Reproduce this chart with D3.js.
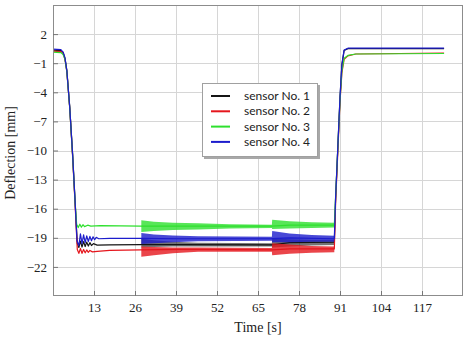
<!DOCTYPE html>
<html>
<head>
<meta charset="utf-8">
<script src="https://cdn.jsdelivr.net/npm/d3@7"></script>
<style>
  html, body { margin: 0; padding: 0; background: #fff; }
  svg { display: block; }
  .tick text { font-family: "Liberation Serif", "Times New Roman", serif !important; font-size: 13px !important; }
</style>
</head>
<body>
<svg id="chart" width="469" height="340"></svg>
<script>
// ---- data ----
const xTicks = [13, 26, 39, 52, 65, 78, 91, 104, 117];
const yTicks = [2, -1, -4, -7, -10, -13, -16, -19, -22];
const seriesNames = ["sensor No. 1", "sensor No. 2", "sensor No. 3", "sensor No. 4"];
const seriesColors = ["#151515", "#e5161d", "#2ee02e", "#1c1ccc"];

// main traces [time s, deflection mm]
const trace1 = [[0,0.35],[2.5,0.3],[3.2,0.1],[3.8,-0.5],[4.4,-1.8],[5.3,-5.5],[6.2,-10.3],[7,-15.2],[7.7,-19.6],
  [8.2,-20.0],[8.7,-19.35],[9.2,-19.95],[9.7,-19.4],[10.2,-19.9],[10.7,-19.45],[11.2,-19.85],[11.7,-19.5],[12.2,-19.8],
  [12.8,-19.6],[14,-19.75],[18,-19.72],[27.9,-19.7],[40,-19.7],[69.4,-19.72],[75,-19.5],[89.2,-19.45],
  [89.6,-15],[90.3,-9.8],[91,-4.6],[91.6,-1.2],[92.3,0.3],[93.5,0.5],[124,0.5]];
const trace2 = [[0,0.25],[2.5,0.2],[3.2,0.0],[3.8,-0.6],[4.4,-1.9],[5.3,-5.6],[6.2,-10.5],[7,-15.5],[7.7,-20.2],
  [8.2,-20.6],[8.7,-20.1],[9.2,-20.6],[9.7,-20.2],[10.2,-20.55],[10.7,-20.25],[11.2,-20.5],[11.7,-20.3],[12.5,-20.45],
  [14,-20.4],[18,-20.3],[27.9,-20.25],[40,-20.2],[69.4,-20.25],[75,-20.15],[89.2,-20.15],
  [89.6,-15.5],[90.3,-10.2],[91,-5.0],[91.6,-2.0],[92.3,-0.6],[93.5,-0.25],[96,-0.05],[124,0.05]];
const trace3 = [[0,0.15],[2.5,0.1],[3.2,-0.1],[3.8,-0.6],[4.4,-1.9],[5.3,-5.6],[6.2,-10.4],[7,-15.3],[7.5,-17.6],
  [8,-17.95],[8.5,-17.6],[9,-17.9],[9.5,-17.65],[10,-17.85],[11,-17.7],[12,-17.8],[15,-17.75],[27.9,-17.8],
  [40,-17.8],[69.4,-17.8],[75,-17.7],[89.2,-17.7],
  [89.6,-14.8],[90.3,-9.8],[91,-4.8],[91.6,-1.8],[92.3,-0.5],[93.5,-0.2],[96,-0.05],[124,0.0]];
const trace4 = [[0,0.45],[2.5,0.4],[3.2,0.15],[3.8,-0.45],[4.4,-1.8],[5.3,-5.5],[6.2,-10.3],[7,-15.2],[7.6,-19.3],
  [8.2,-19.8],[8.7,-18.6],[9.2,-19.6],[9.7,-18.7],[10.2,-19.5],[10.7,-18.8],[11.2,-19.4],[11.7,-18.85],[12.2,-19.3],
  [12.7,-18.9],[13.2,-19.2],[13.7,-18.95],[14.5,-19.1],[18,-19.05],[27.9,-19.05],[40,-19.1],[69.4,-19.08],[75,-19.0],[89.2,-19.1],
  [89.6,-14.9],[90.3,-9.7],[91,-4.5],[91.6,-1.1],[92.3,0.35],[93.5,0.55],[124,0.55]];

// oscillation envelopes [time s, lower, upper]
const band1 = [[28,-20.0,-19.1],[32,-19.95,-19.25],[38,-19.9,-19.4],[46,-19.9,-19.5],[69.4,-19.9,-19.55],
  [69.5,-20.0,-19.05],[75,-19.9,-19.15],[82,-19.8,-19.2],[89.2,-19.75,-19.2]];
const band2 = [[28,-20.95,-19.9],[32,-20.8,-19.95],[38,-20.6,-20.0],[46,-20.45,-20.0],[69.4,-20.45,-20.05],
  [69.5,-20.8,-19.55],[75,-20.65,-19.7],[82,-20.55,-19.85],[89.2,-20.5,-19.9]];
const band3 = [[28,-18.4,-17.2],[32,-18.3,-17.35],[38,-18.2,-17.45],[46,-18.15,-17.5],[56,-18.05,-17.6],[69.4,-18.0,-17.65],
  [69.5,-18.1,-17.15],[75,-18.05,-17.3],[82,-18.0,-17.4],[89.2,-17.95,-17.45]];
const band4 = [[28,-19.65,-18.5],[32,-19.55,-18.65],[38,-19.45,-18.75],[46,-19.35,-18.85],[69.4,-19.3,-18.9],
  [69.5,-19.45,-18.3],[75,-19.45,-18.55],[82,-19.4,-18.7],[89.2,-19.4,-18.8]];

const traces = [trace1, trace2, trace3, trace4];
const bands = [band1, band2, band3, band4];

// ---- drawing ----
const svg = d3.select("#chart");
const L = 53, R = 463, T = 5, B = 296;
const x = d3.scaleLinear().domain([0, 130]).range([L, R]);
const y = d3.scaleLinear().domain([-25, 5]).range([B, T]);
const serif = "'Liberation Serif', 'Times New Roman', serif";

// grid
const grid = svg.append("g").attr("stroke", "#d6d6d6").attr("stroke-width", 1);
grid.selectAll("line.v").data(xTicks).join("line")
  .attr("x1", d => Math.round(x(d)) + 0.5).attr("x2", d => Math.round(x(d)) + 0.5)
  .attr("y1", T).attr("y2", B);
grid.selectAll("line.h").data(yTicks).join("line")
  .attr("y1", d => Math.round(y(d)) + 0.5).attr("y2", d => Math.round(y(d)) + 0.5)
  .attr("x1", L).attr("x2", R);

// data
svg.append("clipPath").attr("id", "clip").append("rect")
  .attr("x", L).attr("y", T).attr("width", R - L).attr("height", B - T);
const plot = svg.append("g").attr("clip-path", "url(#clip)");
const line = d3.line().x(d => x(d[0])).y(d => y(d[1]));
const area = d3.area().x(d => x(d[0])).y0(d => y(d[1])).y1(d => y(d[2]));

traces.forEach((tr, i) => {
  const g = plot.append("g");
  g.append("path").datum(bands[i]).attr("d", area)
    .attr("fill", seriesColors[i]).attr("fill-opacity", i === 0 ? 0.6 : 0.8);
  g.append("path").datum(tr).attr("d", line)
    .attr("fill", "none").attr("stroke", seriesColors[i]).attr("stroke-width", 1.2)
    .attr("stroke-linejoin", "round");
});

// frame
svg.append("rect").attr("x", L + 0.5).attr("y", T + 0.5).attr("width", R - L - 1).attr("height", B - T - 1)
  .attr("fill", "none").attr("stroke", "#8c8c8c").attr("stroke-width", 1);

// axes
const xAxis = d3.axisBottom(x).tickValues(xTicks).tickSizeInner(-5).tickSizeOuter(0).tickPadding(7);
const yAxis = d3.axisLeft(y).tickValues(yTicks).tickSizeInner(-5).tickSizeOuter(0).tickPadding(6)
  .tickFormat(d3.format("d"));
const gx = svg.append("g").attr("transform", `translate(0,${B})`).call(xAxis);
const gy = svg.append("g").attr("transform", `translate(${L},0)`).call(yAxis);
[gx, gy].forEach(g => {
  g.attr("font-family", serif).attr("font-size", 13);
  g.select(".domain").remove();
  g.selectAll(".tick line").attr("stroke", "#777");
  g.selectAll(".tick text").attr("fill", "#222");
});

// axis titles
svg.append("text").attr("x", 258).attr("y", 332).attr("text-anchor", "middle")
  .attr("font-family", serif).attr("font-size", 14)
  .attr("fill", "#222").text("Time [s]");
svg.append("text").attr("transform", "translate(15,153) rotate(-90)").attr("text-anchor", "middle")
  .attr("font-family", serif).attr("font-size", 14)
  .attr("fill", "#222").text("Deflection [mm]");

// legend
const lg = svg.append("g");
lg.append("rect").attr("x", 204).attr("y", 85).attr("width", 116).attr("height", 74).attr("fill", "#a8a8a8");
lg.append("rect").attr("x", 202.5).attr("y", 83.5).attr("width", 115).attr("height", 73)
  .attr("fill", "#fff").attr("stroke", "#a0a0a0");
seriesNames.forEach((n, i) => {
  const yy = 96 + i * 15.3;
  lg.append("line").attr("x1", 211).attr("x2", 230).attr("y1", yy).attr("y2", yy)
    .attr("stroke", seriesColors[i]).attr("stroke-width", 2);
  lg.append("text").attr("x", 244).attr("y", yy + 4).text(n)
    .attr("font-family", "Lato, 'Liberation Sans', sans-serif").attr("font-size", 12).attr("fill", "#222");
});
</script>
</body>
</html>
